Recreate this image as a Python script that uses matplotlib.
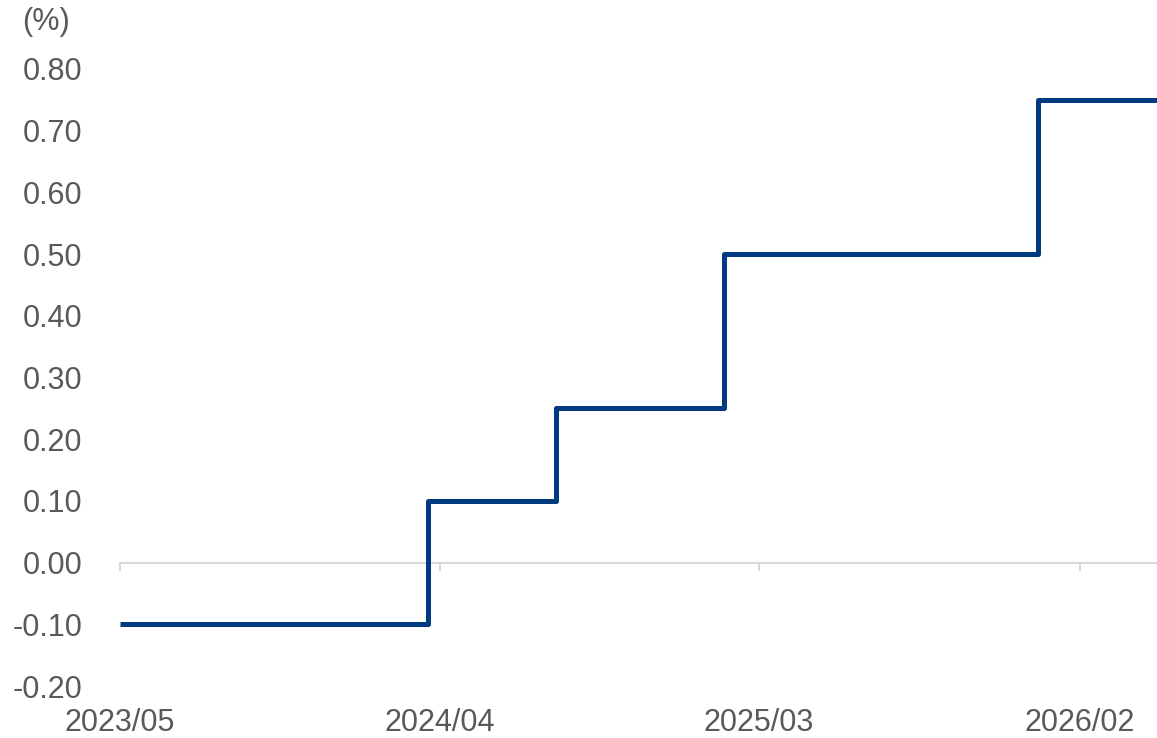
import matplotlib
matplotlib.use("Agg")
import matplotlib.pyplot as plt
import matplotlib.dates as mdates
import matplotlib.ticker as mticker
import numpy as np
import datetime as dt

# Policy rate change dates and levels (step, held until next change)
dates = ["2023-05-01", "2024-03-19", "2024-07-31", "2025-01-24", "2025-12-19", "2026-04-23"]
rates = [-0.10, 0.10, 0.25, 0.50, 0.75, 0.75]
tick_dates = ["2023-05-01", "2024-04-01", "2025-03-01", "2026-02-01"]
tick_labels = ["2023/05", "2024/04", "2025/03", "2026/02"]
y_ticks = [-0.20, -0.10, 0.00, 0.10, 0.20, 0.30, 0.40, 0.50, 0.60, 0.70, 0.80]

plt.rcParams['font.family'] = ['Liberation Sans', 'DejaVu Sans']
grey = "#595959"

W, H = 1157, 738
fig = plt.figure(figsize=(W / 100, H / 100), dpi=100)
ax = fig.add_axes([120 / W, 1 - 686 / H, (1157 - 120) / W, (686 - 69) / H])

x = [dt.datetime.strptime(d, "%Y-%m-%d") for d in dates]
ax.step(x, rates, where="post", color="#003A80", lw=3.6, solid_joinstyle="round",
        solid_capstyle="butt", zorder=3)

ax.set_ylim(-0.20, 0.80)
ax.set_xlim(x[0], x[-1])

for s in ["left", "right", "top"]:
    ax.spines[s].set_visible(False)
ax.spines["bottom"].set_position(("data", 0))
ax.spines["bottom"].set_color("#d9d9d9")
ax.spines["bottom"].set_linewidth(1.5)

tx = [dt.datetime.strptime(d, "%Y-%m-%d") for d in tick_dates]
ax.set_xticks(tx)
ax.set_xticklabels(tick_labels)
ax.tick_params(axis="x", direction="out", length=6, width=1.5, color="#d9d9d9",
               labelsize=22, labelcolor=grey, pad=99)

ax.set_yticks(y_ticks)
ax.yaxis.set_major_formatter(mticker.FormatStrFormatter("%.2f"))
ax.tick_params(axis="y", length=0, labelsize=22, labelcolor=grey, pad=27)

fig.text(22 / W, 1 - 22 / H, "(%)", fontsize=22, color=grey, ha="left", va="center")

fig.savefig("out.png", dpi=100)
